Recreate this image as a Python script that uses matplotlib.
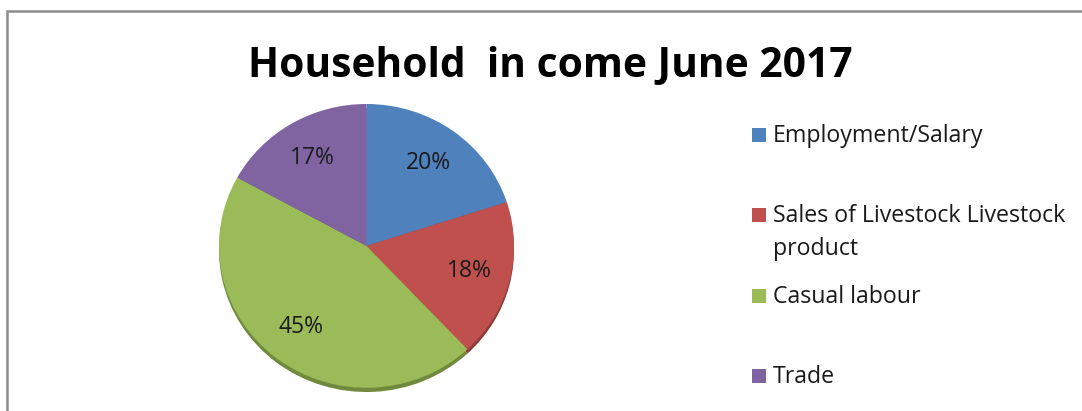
import matplotlib
matplotlib.use("Agg")
import matplotlib.pyplot as plt
from matplotlib.patches import Rectangle

categories = ["Employment/Salary", "Sales of Livestock Livestock\nproduct", "Casual labour", "Trade"]
values = [20, 18, 45, 17]
colors = ["#4F81BD", "#C0504D", "#9BBB59", "#8064A2"]
shadow_colors = ["#3A6190", "#8E3B39", "#6F8A3C", "#5E4A78"]
title = "Household  in come June 2017"

W, H = 1082, 411
fig = plt.figure(figsize=(W / 100, H / 100), dpi=100)
plt.rcParams['font.family'] = ['Open Sans', 'DejaVu Sans']

# outer frame (extends past right and bottom edge)
fig.patches.append(Rectangle((7 / W, -0.1), 1.2, (H - 11) / H + 0.1, transform=fig.transFigure,
                             fill=False, edgecolor="#8C8C8C", linewidth=1.8))

fig.text(550.5 / W, 1 - 77 / H, title, ha="center", va="baseline", fontsize=29.3,
         fontweight="bold")

# pie axes (elliptical)
left, right, top, bottom = 219, 514, 104, 392
ax = fig.add_axes([left / W, 1 - bottom / H, (right - left) / W, (bottom - top) / H])
# shadow layer
ax.pie(values, colors=shadow_colors, startangle=90, counterclock=False, radius=1.0,
       center=(0, -0.03), wedgeprops=dict(linewidth=0))
wedges, texts, autotexts = ax.pie(values, colors=colors, startangle=90, counterclock=False,
                                  radius=1.0, center=(0, 0.0),
                                  autopct="%d%%", pctdistance=0.72,
                                  wedgeprops=dict(linewidth=0),
                                  textprops=dict(fontsize=16.5, color="#1a1a1a"))
ax.set_aspect("auto")
ax.set_xlim(-1.0, 1.0)
ax.set_ylim(-1.03, 1.0)
ax.axis("off")

# legend
baselines = [142, 222, 303, 383]
line_step = 33
for lab, col, yb in zip(categories, colors, baselines):
    fig.patches.append(Rectangle((752 / W, 1 - yb / H), 14 / W, 14 / H,
                                 transform=fig.transFigure, facecolor=col, edgecolor="none"))
    for k, line in enumerate(lab.split("\n")):
        fig.text(773 / W, 1 - (yb + k * line_step) / H, line, ha="left", va="baseline",
                 fontsize=16.7, color="#1a1a1a")

fig.savefig("out.png", dpi=100)
